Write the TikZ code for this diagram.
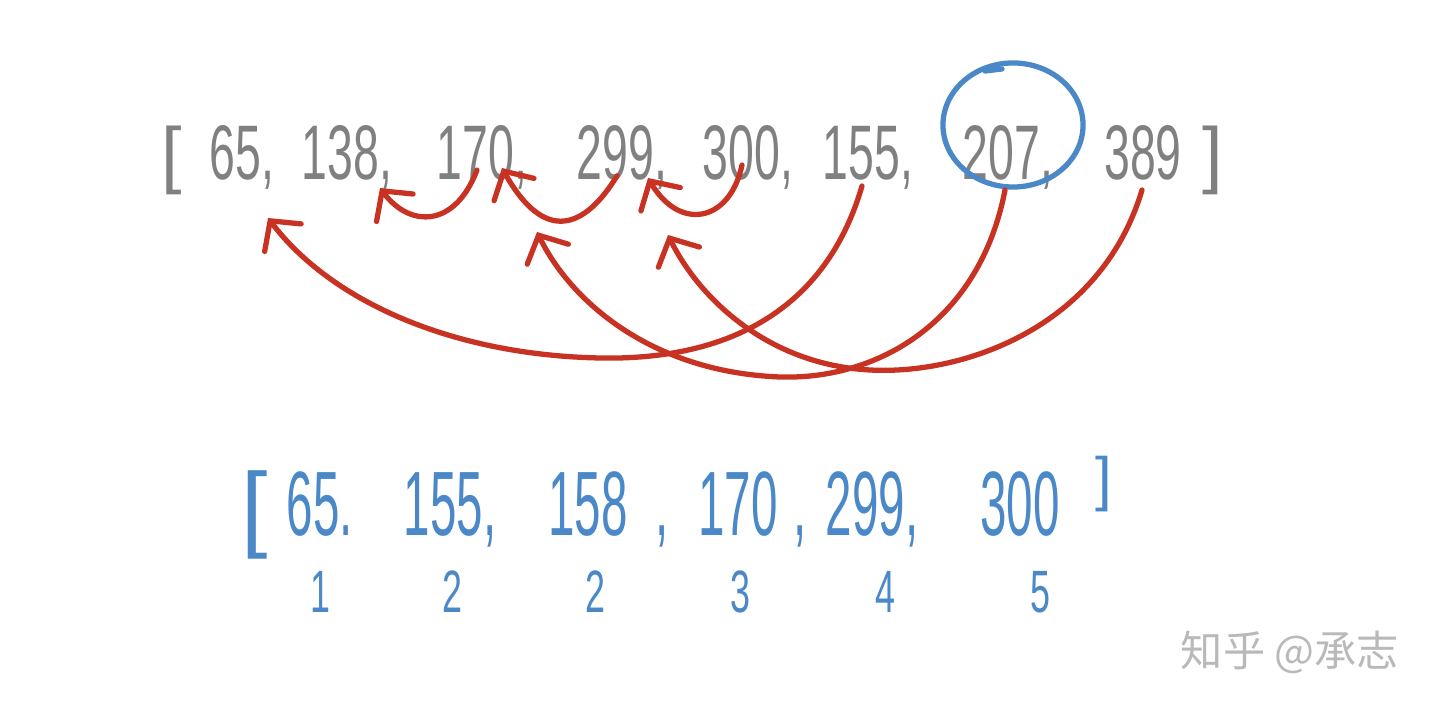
\documentclass[tikz,border=0pt]{standalone}
\usepackage{fontspec}
\usetikzlibrary{arrows.meta,shapes.geometric}
\newfontfamily\hand[FakeStretch=0.6]{Liberation Sans}
\newfontfamily\handb[FakeStretch=0.52]{Liberation Sans}
\newfontfamily\brk{Liberation Sans}
\newfontfamily\cjk{Noto Sans CJK SC}
\definecolor{pengray}{RGB}{128,128,128}
\definecolor{penblue}{RGB}{74,136,200}
\definecolor{penred}{RGB}{200,50,35}
\definecolor{wmgray}{RGB}{185,185,185}
\tikzset{
  toprow/.style={anchor=base, inner sep=0pt, text=pengray, font=\hand\fontsize{22}{24}\selectfont},
  botrow/.style={anchor=base, inner sep=0pt, text=penblue, font=\handb\fontsize{26}{28}\selectfont},
  rankrow/.style={anchor=base, inner sep=0pt, text=penblue, font=\hand\fontsize{17}{19}\selectfont},
  redarr/.style={draw=penred, line width=1.5pt, line cap=round,
    -{Straight Barb[length=6pt,width=13pt,line cap=round]}},
  ring/.style={draw=penblue, line width=1.5pt, ellipse, inner sep=0pt}
}
\begin{document}
\begin{tikzpicture}[x=0.01cm,y=-0.01cm]
\useasboundingbox (0,0) rectangle (1440,710);
% top row
\node[toprow, font=\brk\fontsize{21}{23}\selectfont] (lb) at (172,180) {[};
\node[toprow] (n65) at (242,180) {65,};
\node[toprow] (n138) at (347,180) {138,};
\node[toprow] (n170) at (482,180) {170,};
\node[toprow] (n299) at (622,180) {299,};
\node[toprow] (n300) at (748,180) {300,};
\node[toprow] (n155) at (868,180) {155,};
\node[toprow] (n207) at (1008,180) {207,};
\node[toprow] (n389) at (1143,180) {389};
\node[toprow, font=\brk\fontsize{21}{23}\selectfont] (rb) at (1213,180) {]};
% circle around 207
\node[ring, minimum width=1.4cm, minimum height=1.24cm] (ring) at (1013,125) {};
\draw[penblue, line width=1.5pt, line cap=round] (985,71) -- (1002,69);
% arrow anchors
\coordinate (t170) at (477,170);
\coordinate (h138) at (380,188);
\coordinate (t299) at (617,176);
\coordinate (h170) at (502,168);
\coordinate (t300) at (742,165);
\coordinate (h299) at (648,178);
\coordinate (t155) at (862,186);
\coordinate (h65) at (268,218);
\coordinate (t207) at (1005,190);
\coordinate (h170b) at (537,232);
\coordinate (t389) at (1142,190);
\coordinate (h299b) at (668,235);
% red arrows
\draw[redarr] (t170) .. controls (455,228) and (410,228) .. (h138);
\draw[redarr] (t299) .. controls (585,228) and (545,245) .. (h170);
\draw[redarr] (t300) .. controls (730,222) and (680,232) .. (h299);
\draw[redarr] (t155) .. controls (820,330) and (700,360) .. (600,358)
  .. controls (450,355) and (330,300) .. (h65);
\draw[redarr] (t207) .. controls (980,320) and (880,380) .. (780,377)
  .. controls (650,372) and (570,300) .. (h170b);
\draw[redarr] (t389) .. controls (1100,330) and (960,375) .. (870,370)
  .. controls (770,365) and (700,300) .. (h299b);
% bottom row
\node[botrow, font=\brk\fontsize{27}{29}\selectfont] (blb) at (255,540) {[};
\node[botrow] (b65) at (320,535) {65.};
\node[botrow] (b155) at (450,535) {155,};
\node[botrow] (b158) at (588,535) {158};
\node[botrow] (bc1) at (662,535) {,};
\node[botrow] (b170) at (738,535) {170};
\node[botrow] (bc2) at (800,535) {,};
\node[botrow] (b299) at (872,535) {299,};
\node[botrow] (b300) at (1020,535) {300};
\node[botrow, font=\brk\fontsize{17}{19}\selectfont] (brb) at (1104,500) {]};
% ranks
\node[rankrow] (r1) at (320,613) {1};
\node[rankrow] (r2) at (452,613) {2};
\node[rankrow] (r3) at (595,613) {2};
\node[rankrow] (r4) at (740,613) {3};
\node[rankrow] (r5) at (885,613) {4};
\node[rankrow] (r6) at (1040,613) {5};
% watermark
\node[text=wmgray, font=\cjk\fontsize{12}{14}\selectfont, inner sep=0pt] (wm) at (1290,652) {知乎\ @承志};
\end{tikzpicture}
\end{document}
